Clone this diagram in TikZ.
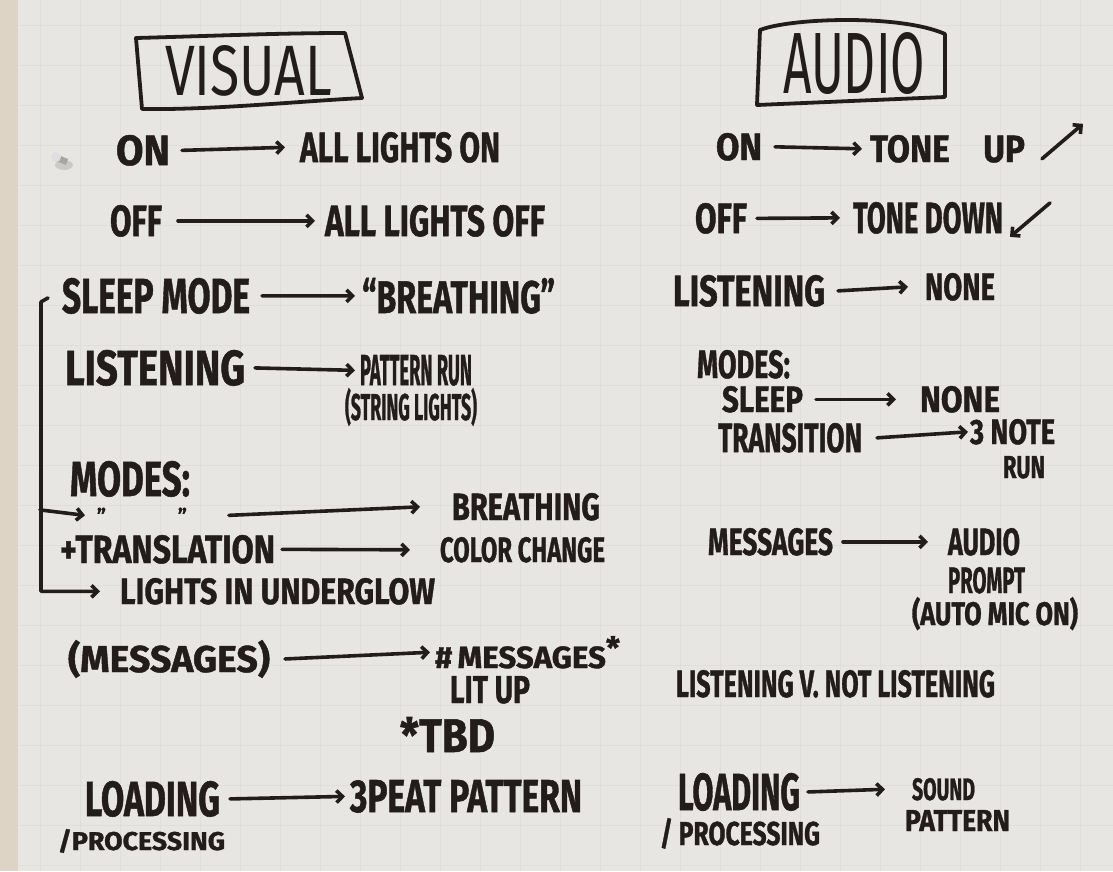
\documentclass[tikz,border=0pt]{standalone}
\usepackage{fontspec}
\setmainfont{Fira Sans}[BoldFeatures={FakeBold=1.2}]
\usepackage{graphicx}
\usetikzlibrary{arrows.meta,calc}
\definecolor{ink}{HTML}{221D1A}
\definecolor{paper}{HTML}{E8E6E3}
\definecolor{paperedge}{HTML}{DDD4C6}
\definecolor{gridc}{HTML}{E0DEDA}
% a marker label: name, left x, baseline y, width, height, text
\newcommand\lbl[6]{\node[txt, anchor=base west] (#1) at (#2,#3) {\resizebox{#4pt}{#5pt}{\bfseries #6}};}
\tikzset{
  txt/.style={inner sep=0pt, outer sep=0pt, text=ink},
  pen/.style={draw=ink, line width=3.6pt, line cap=round, line join=round},
  arr/.style={pen, -{Straight Barb[length=6pt, width=12pt]}},
  boxpen/.style={draw=ink, line width=3.8pt, line cap=round, line join=round},
}
\begin{document}
\begin{tikzpicture}[x=1pt, y=-1pt]
\useasboundingbox (0,0) rectangle (1113,871);
% paper
\fill[paperedge] (0,0) rectangle (18,871);
\fill[paper] (18,0) rectangle (1113,871);
\foreach \gx in {40,80,...,1110} \draw[gridc, line width=0.4pt] (\gx,0) -- (\gx,871);
\foreach \gy in {25,65,...,871} \draw[gridc, line width=0.4pt] (18,\gy) -- (1113,\gy);
% push pin
\fill[black, opacity=0.12] (64,165) ellipse (9pt and 5pt);
\fill[gray!70] (56,154) -- (68,159) -- (66,165) -- (54,160) -- cycle;
\fill[gray!25] (56,157) circle (5pt);

% headings
\lbl{vtitle}{165}{95}{167}{50}{\mdseries VISUAL}
\lbl{atitle}{783}{93}{142}{61}{\mdseries AUDIO}
\draw[boxpen] (136,38) .. controls (210,36) and (280,33) .. (345,33)
  -- (362,98) .. controls (290,102) and (210,110) .. (142,109) -- cycle;
\draw[boxpen] (760,30) .. controls (790,18) and (900,14) .. (945,34)
  -- (945,97) -- (757,105) -- cycle;

% ---------------- VISUAL column ----------------
\lbl{von}{116}{165}{54}{30}{ON}
\lbl{vallon}{300}{162}{200}{30}{ALL LIGHTS ON}
\lbl{voff}{110}{236}{52}{31}{OFF}
\lbl{valloff}{325}{236}{220}{31}{ALL LIGHTS OFF}
\lbl{vsleep}{62}{313}{188}{35}{SLEEP MODE}
\lbl{vbreath}{362}{313}{193}{35}{“BREATHING”}
\lbl{vlisten}{65}{385}{180}{35}{LISTENING}
\lbl{vpattern}{360}{385}{112}{30}{PATTERN RUN}
\lbl{vstring}{345}{420}{132}{32}{(STRING LIGHTS)}
\lbl{vmodes}{70}{496}{120}{35}{MODES:}
\node[txt, anchor=base west] (vditto) at (97,523) {\fontsize{20}{20}\selectfont\bfseries "\hspace{72pt}"};
\lbl{vbreathb}{452}{520}{148}{27}{BREATHING}
\lbl{vtrans}{60}{563}{215}{28}{+TRANSLATION}
\lbl{vcolor}{440}{562}{165}{25}{COLOR CHANGE}
\lbl{vunder}{120}{604}{315}{26}{LIGHTS IN UNDERGLOW}
\lbl{vmsg}{68}{672}{202}{32}{(MESSAGES)}
\lbl{vnum}{435}{668}{185}{32}{\#\,MESSAGES\raisebox{0.3em}{*}}
\lbl{vlit}{450}{703}{80}{27}{LIT UP}
\lbl{vtbd}{400}{752}{95}{35}{*TBD}
\lbl{vload}{85}{816}{135}{35}{LOADING}
\lbl{vrepeat}{350}{812}{232}{32}{3PEAT PATTERN}
\lbl{vproc}{58}{850}{167}{21}{/PROCESSING}

\draw[arr] ([xshift=12pt]von.east) -- ([xshift=-15pt]vallon.west);
\draw[arr] ([xshift=16pt]voff.east) -- ([xshift=-10pt]valloff.west);
\draw[arr] ([xshift=12pt]vsleep.east) -- ([xshift=-7pt]vbreath.west);
\draw[arr] ([xshift=10pt]vlisten.east) -- ([xshift=-5pt]vpattern.west);
\draw[arr] ([xshift=42pt]vditto.east) -- ([xshift=-32pt]vbreathb.west);
\draw[arr] ([xshift=7pt]vtrans.east) -- ([xshift=-30pt]vcolor.west);
\draw[arr] ([xshift=15pt]vmsg.east) -- ([xshift=-5pt]vnum.west);
\draw[arr] ([xshift=10pt]vload.east) -- ([xshift=-5pt]vrepeat.west);

% bracket grouping the visual states
\coordinate (bk) at ($(vsleep.west)+(-14,2)$);
\draw[arr] (bk) -- ++(-7,4) |- ([xshift=-20pt]vunder.west);
\draw[arr] ($(bk)+(-8,212)$) -- ([xshift=-12pt]vditto.west);

% ---------------- AUDIO column ----------------
\lbl{aon}{716}{160}{46}{27}{ON}
\lbl{atoneup}{870}{162}{155}{27}{TONE\quad UP}
\lbl{aoff}{695}{233}{52}{30}{OFF}
\lbl{atonedown}{853}{233}{150}{31}{TONE DOWN}
\lbl{alisten}{673}{306}{152}{31}{LISTENING}
\lbl{anone}{925}{300}{70}{27}{NONE}
\lbl{amodes}{697}{378}{93}{28}{MODES:}
\lbl{asleep}{722}{412}{81}{26}{SLEEP}
\lbl{anoneb}{920}{412}{80}{26}{NONE}
\lbl{atrans}{718}{452}{144}{29}{TRANSITION}
\lbl{anote}{970}{444}{85}{25}{3 NOTE}
\lbl{arun}{1003}{478}{42}{22}{RUN}
\lbl{amsg}{708}{555}{125}{27}{MESSAGES}
\lbl{aaudio}{948}{555}{72}{27}{AUDIO}
\lbl{aprompt}{948}{593}{77}{26}{PROMPT}
\lbl{aauto}{912}{625}{166}{28}{(AUTO MIC ON)}
\lbl{alvn}{676}{697}{319}{27}{LISTENING V. NOT LISTENING}
\lbl{aload}{678}{810}{122}{37}{LOADING}
\lbl{asound}{912}{800}{63}{22}{SOUND}
\lbl{apattern}{905}{831}{105}{21}{PATTERN}
\lbl{aproc}{660}{845}{160}{27}{/ PROCESSING}

\draw[arr] ([xshift=13pt]aon.east) -- ([xshift=-8pt]atoneup.west);
\draw[arr] ([xshift=10pt]aoff.east) -- ([xshift=-13pt]atonedown.west);
\draw[arr] ([xshift=13pt]alisten.east) -- ([xshift=-17pt]anone.west);
\draw[arr] ([xshift=13pt]asleep.east) -- ([xshift=-24pt]anoneb.west);
\draw[arr] ([xshift=15pt]atrans.east) -- ([xshift=-2pt]anote.west);
\draw[arr] ([xshift=10pt]amsg.east) -- ([xshift=-20pt]aaudio.west);
\draw[arr] ([xshift=8pt]aload.east) -- ([xshift=-27pt]asound.west);
% rising and falling tone marks
\draw[arr] ($(atoneup.east)+(17,10)$) -- ($(atoneup.east)+(58,-25)$);
\draw[arr] ($(atonedown.east)+(47,-15)$) -- ($(atonedown.east)+(7,19)$);
\end{tikzpicture}
\end{document}
